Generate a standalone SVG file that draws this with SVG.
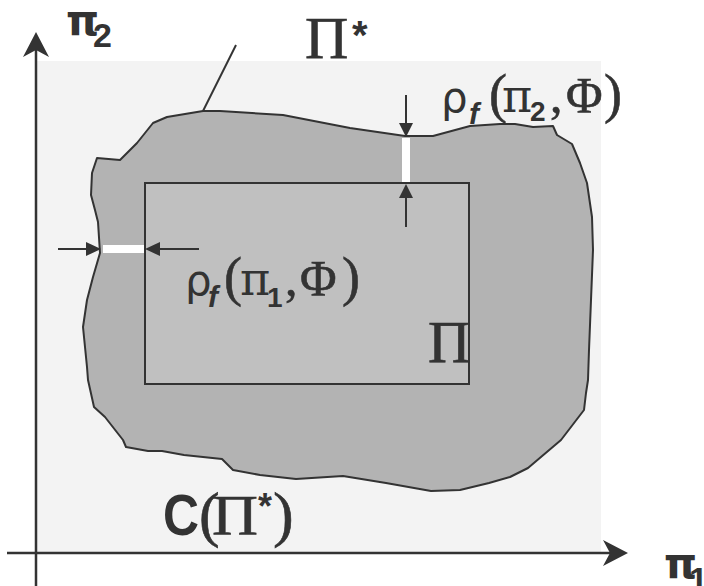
<svg xmlns="http://www.w3.org/2000/svg" width="704" height="586" viewBox="0 0 704 586">
<style>
.ln{stroke:#333;stroke-width:2;fill:none}
.ax{stroke:#333;stroke-width:2.5;fill:none}
.hd{fill:#333;stroke:none}
.sr{font-family:"Liberation Serif","Times New Roman",serif;fill:#333;stroke:#333;stroke-width:0.6}
.sp{font-family:"DejaVu Serif","Liberation Serif",serif;fill:#333}
.ss{font-family:"DejaVu Sans","Liberation Sans",sans-serif;fill:#333}
.sb{font-family:"Liberation Sans",Arial,sans-serif;font-weight:bold;fill:#333}
.db{font-family:"DejaVu Sans","Liberation Sans",sans-serif;font-weight:bold;fill:#333}
.sf{font-family:"Liberation Sans",Arial,sans-serif;font-weight:bold;font-style:italic;fill:#333}
</style>
<rect x="0" y="0" width="704" height="586" fill="#ffffff"/>
<g id="space-C">
<rect x="37" y="61" width="564" height="492" fill="#f3f3f3"/>
</g>
<g id="region-PiStar">
<path d="M97,158 L120,160 L137,143 L145,133 L153,123 L167,117 L203,111 L220,111 L283,115 L350,128 L405,136 L433,136 L470,126 L500,124 L515,124 L533,127 L553,126 L557,135 L572,144 L580,163 L587,183 L592,217 L593,250 L591,300 L589,350 L588,380 L586,393 L584,410 L561,440 L528,468 L510,477 L489,483 L460,490 L431,491 L386,483 L343,476 L296,479 L260,475 L233,470 L222,459 L184,455 L162,451 L148,451 L126,447 L123,440 L105,417 L94,407 L88,380 L87,367 L83,327 L87,300 L93,277 L100,253 L98,222 L95,210 L91,195 L92,173 Z" fill="#b3b3b3" stroke="#333" stroke-width="2" stroke-linejoin="round"/>
</g>
<g id="region-Pi">
<rect x="145" y="183" width="324" height="201" fill="#c0c0c0" stroke="#333" stroke-width="2"/>
</g>
<g id="connectors">
<line class="ax" x1="36" y1="45" x2="36" y2="586"/>
<path class="hd" d="M36,32 L49,57 L36,50 L23,57 Z"/>
<line class="ax" x1="7" y1="553" x2="615" y2="553"/>
<path class="hd" d="M628,553 L603,566 L610,553 L603,540 Z"/>
<line class="ln" x1="236" y1="45" x2="203" y2="111"/>
<rect x="402" y="138" width="8" height="44" fill="#ffffff"/>
<line class="ln" x1="406" y1="95" x2="406" y2="124"/>
<path class="hd" d="M406,137 L399,123 L413,123 Z"/>
<line class="ln" x1="406" y1="197" x2="406" y2="227"/>
<path class="hd" d="M406,184 L399,198 L413,198 Z"/>
<rect x="103" y="245" width="41" height="8" fill="#ffffff"/>
<line class="ln" x1="58" y1="249" x2="87" y2="249"/>
<path class="hd" d="M101,249 L86,242 L86,256 Z"/>
<line class="ln" x1="159" y1="249" x2="199" y2="249"/>
<path class="hd" d="M145,249 L160,242 L160,256 Z"/>
</g>
<g id="label-pi2">
<text class="db" x="66" y="35" font-size="42">π</text>
<text class="sb" x="93" y="47" font-size="34">2</text>
</g>
<g id="label-pi1">
<text class="db" x="664" y="578" font-size="42">π</text>
<text class="sb" x="689" y="591" font-size="34">1</text>
</g>
<g id="label-PiStar">
<text class="sr" x="305" y="58" font-size="60">Π</text>
<text class="sb" x="352" y="49" font-size="40">*</text>
</g>
<g id="label-Pi">
<text class="sr" x="428" y="362" font-size="59">Π</text>
</g>
<g id="label-rho2">
<text class="ss" x="441" y="112" font-size="42">ρ</text>
<text class="sf" x="469" y="124" font-size="30">f</text>
<text class="sr" x="489" y="112" font-size="54">(</text>
<text class="sp" x="502" y="112" font-size="46">π</text>
<text class="sb" x="530" y="121" font-size="28">2</text>
<text class="sr" x="550" y="112" font-size="50">,</text>
<text class="sr" x="566" y="112" font-size="50">Φ</text>
<text class="sr" x="604" y="112" font-size="54">)</text>
</g>
<g id="label-rho1">
<text class="ss" x="185" y="295" font-size="42">ρ</text>
<text class="sf" x="208" y="307" font-size="30">f</text>
<text class="sr" x="224" y="295" font-size="54">(</text>
<text class="sp" x="240" y="295" font-size="46">π</text>
<text class="sb" x="267" y="307" font-size="28">1</text>
<text class="sr" x="285" y="295" font-size="50">,</text>
<text class="sr" x="300" y="295" font-size="50">Φ</text>
<text class="sr" x="342" y="295" font-size="54">)</text>
</g>
<g id="label-C">
<text class="sb" x="163" y="535" font-size="58" textLength="36" lengthAdjust="spacingAndGlyphs">C</text>
<text class="sr" x="199" y="535" font-size="62">(</text>
<text class="sr" x="212" y="535" font-size="58" textLength="46" lengthAdjust="spacingAndGlyphs">Π</text>
<text class="sb" x="258" y="519" font-size="36">*</text>
<text class="sr" x="273" y="535" font-size="62">)</text>
</g>
</svg>
